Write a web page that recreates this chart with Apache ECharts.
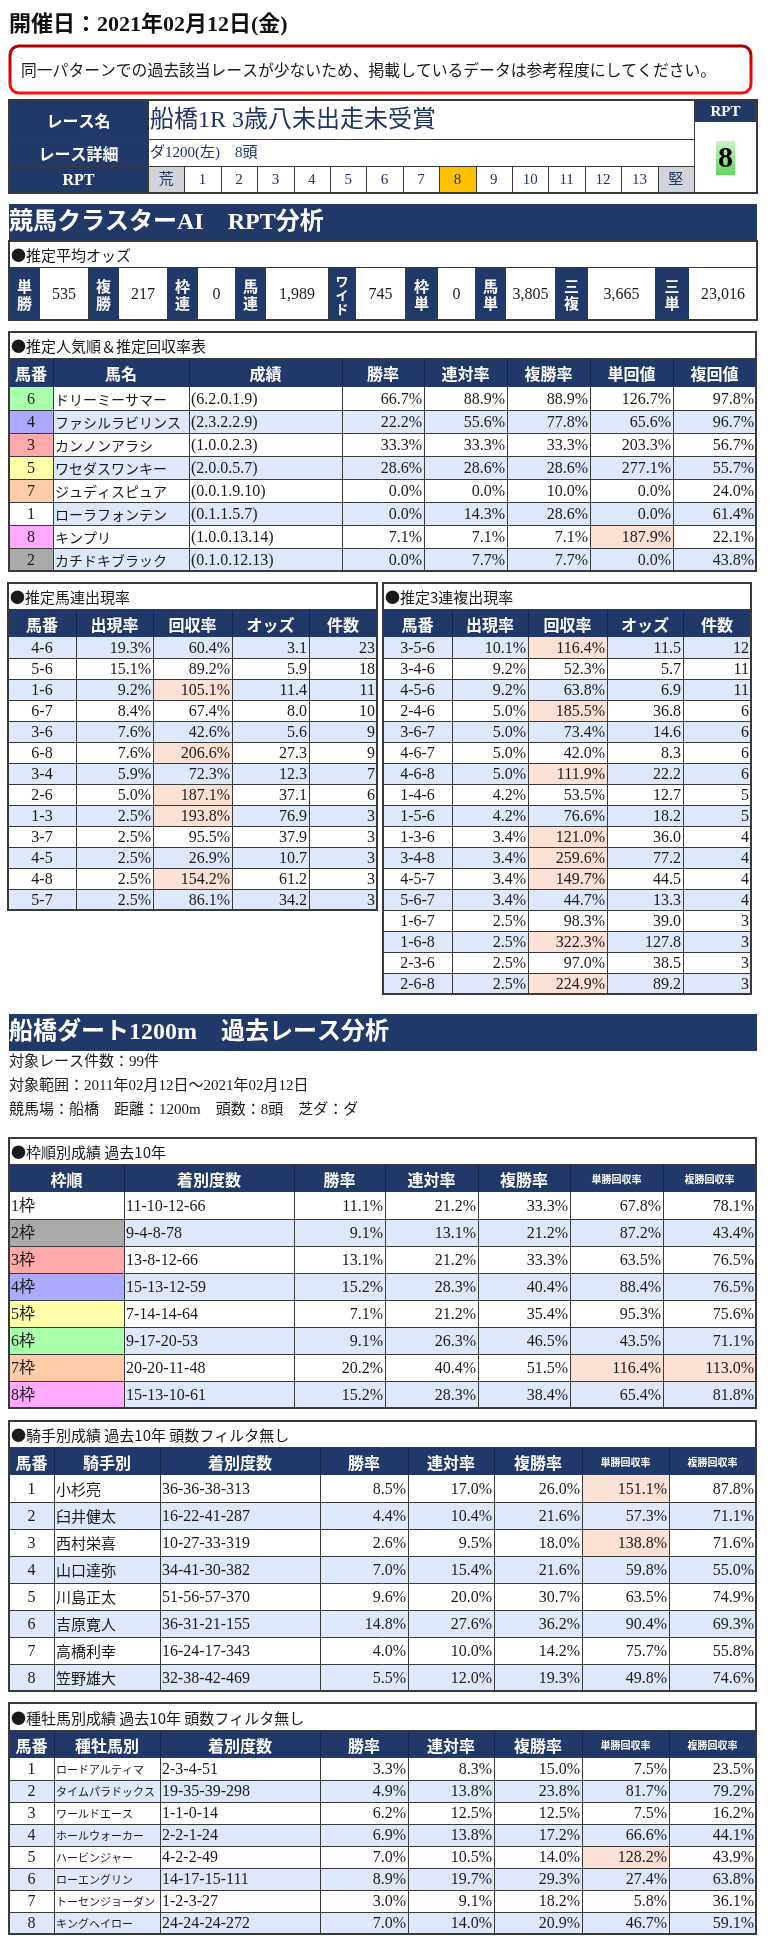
<!DOCTYPE html>
<html><head><meta charset="utf-8">
<script src="https://cdn.jsdelivr.net/npm/echarts/dist/echarts.min.js"></script>
<style>html,body{margin:0;padding:0;background:#fff}#c{width:784px;height:1954px}</style>
</head><body><div id="c"></div>
<script>
// ===== DATA =====
const eventDate = '開催日：2021年02月12日(金)';
const notice = '同一パターンでの過去該当レースが少ないため、掲載しているデータは参考程度にしてください。';
const raceName = '船橋1R 3歳八未出走未受賞';
const raceDetail = 'ダ1200(左)　8頭';
const rptScale = ['荒','1','2','3','4','5','6','7','8','9','10','11','12','13','堅'];
const rptValue = 8;

const oddsLabels = ['単勝','複勝','枠連','馬連','ワイド','枠単','馬単','三複','三単'];
const oddsValues = ['535','217','0','1,989','745','0','3,805','3,665','23,016'];

const popHeaders = ['馬番','馬名','成績','勝率','連対率','複勝率','単回値','複回値'];
const popNo = [6,4,3,5,7,1,8,2];
const popName = ['ドリーミーサマー','ファシルラビリンス','カンノンアラシ','ワセダスワンキー','ジュディスピュア','ローラフォンテン','キンプリ','カチドキブラック'];
const popRecord = ['(6.2.0.1.9)','(2.3.2.2.9)','(1.0.0.2.3)','(2.0.0.5.7)','(0.0.1.9.10)','(0.1.1.5.7)','(1.0.0.13.14)','(0.1.0.12.13)'];
const popWin = [66.7,22.2,33.3,28.6,0.0,0.0,7.1,0.0];
const popRen = [88.9,55.6,33.3,28.6,0.0,14.3,7.1,7.7];
const popFuku = [88.9,77.8,33.3,28.6,10.0,28.6,7.1,7.7];
const popTanKai = [126.7,65.6,203.3,277.1,0.0,0.0,187.9,0.0];
const popFukuKai = [97.8,96.7,56.7,55.7,24.0,61.4,22.1,43.8];
const popTanMarked = [false,false,false,false,false,false,true,false];

const pairHeaders = ['馬番','出現率','回収率','オッズ','件数'];
const umarenCombo = ['4-6','5-6','1-6','6-7','3-6','6-8','3-4','2-6','1-3','3-7','4-5','4-8','5-7'];
const umarenRate = [19.3,15.1,9.2,8.4,7.6,7.6,5.9,5.0,2.5,2.5,2.5,2.5,2.5];
const umarenReturn = [60.4,89.2,105.1,67.4,42.6,206.6,72.3,187.1,193.8,95.5,26.9,154.2,86.1];
const umarenOdds = [3.1,5.9,11.4,8.0,5.6,27.3,12.3,37.1,76.9,37.9,10.7,61.2,34.2];
const umarenCount = [23,18,11,10,9,9,7,6,3,3,3,3,3];

const trioCombo = ['3-5-6','3-4-6','4-5-6','2-4-6','3-6-7','4-6-7','4-6-8','1-4-6','1-5-6','1-3-6','3-4-8','4-5-7','5-6-7','1-6-7','1-6-8','2-3-6','2-6-8'];
const trioRate = [10.1,9.2,9.2,5.0,5.0,5.0,5.0,4.2,4.2,3.4,3.4,3.4,3.4,2.5,2.5,2.5,2.5];
const trioReturn = [116.4,52.3,63.8,185.5,73.4,42.0,111.9,53.5,76.6,121.0,259.6,149.7,44.7,98.3,322.3,97.0,224.9];
const trioOdds = [11.5,5.7,6.9,36.8,14.6,8.3,22.2,12.7,18.2,36.0,77.2,44.5,13.3,39.0,127.8,38.5,89.2];
const trioCount = [12,11,11,6,6,6,6,5,5,4,4,4,4,3,3,3,3];

const courseTitle = '船橋ダート1200m　過去レース分析';
const courseInfo = ['対象レース件数：99件','対象範囲：2011年02月12日～2021年02月12日','競馬場：船橋　距離：1200m　頭数：8頭　芝ダ：ダ'];

const frameHeaders = ['枠順','着別度数','勝率','連対率','複勝率','単勝回収率','複勝回収率'];
const frameLabel = ['1枠','2枠','3枠','4枠','5枠','6枠','7枠','8枠'];
const frameRecord = ['11-10-12-66','9-4-8-78','13-8-12-66','15-13-12-59','7-14-14-64','9-17-20-53','20-20-11-48','15-13-10-61'];
const frameWin = [11.1,9.1,13.1,15.2,7.1,9.1,20.2,15.2];
const frameRen = [21.2,13.1,21.2,28.3,21.2,26.3,40.4,28.3];
const frameFuku = [33.3,21.2,33.3,40.4,35.4,46.5,51.5,38.4];
const frameTanKai = [67.8,87.2,63.5,88.4,95.3,43.5,116.4,65.4];
const frameFukuKai = [78.1,43.4,76.5,76.5,75.6,71.1,113.0,81.8];

const jockeyHeaders = ['馬番','騎手別','着別度数','勝率','連対率','複勝率','単勝回収率','複勝回収率'];
const jockeyNo = [1,2,3,4,5,6,7,8];
const jockeyName = ['小杉亮','臼井健太','西村栄喜','山口達弥','川島正太','吉原寛人','高橋利幸','笠野雄大'];
const jockeyRecord = ['36-36-38-313','16-22-41-287','10-27-33-319','34-41-30-382','51-56-57-370','36-31-21-155','16-24-17-343','32-38-42-469'];
const jockeyWin = [8.5,4.4,2.6,7.0,9.6,14.8,4.0,5.5];
const jockeyRen = [17.0,10.4,9.5,15.4,20.0,27.6,10.0,12.0];
const jockeyFuku = [26.0,21.6,18.0,21.6,30.7,36.2,14.2,19.3];
const jockeyTanKai = [151.1,57.3,138.8,59.8,63.5,90.4,75.7,49.8];
const jockeyFukuKai = [87.8,71.1,71.6,55.0,74.9,69.3,55.8,74.6];

const sireHeaders = ['馬番','種牡馬別','着別度数','勝率','連対率','複勝率','単勝回収率','複勝回収率'];
const sireNo = [1,2,3,4,5,6,7,8];
const sireName = ['ロードアルティマ','タイムパラドックス','ワールドエース','ホールウォーカー','ハービンジャー','ローエングリン','トーセンジョーダン','キングヘイロー'];
const sireRecord = ['2-3-4-51','19-35-39-298','1-1-0-14','2-2-1-24','4-2-2-49','14-17-15-111','1-2-3-27','24-24-24-272'];
const sireWin = [3.3,4.9,6.2,6.9,7.0,8.9,3.0,7.0];
const sireRen = [8.3,13.8,12.5,13.8,10.5,19.7,9.1,14.0];
const sireFuku = [15.0,23.8,12.5,17.2,14.0,29.3,18.2,20.9];
const sireTanKai = [7.5,81.7,7.5,66.6,128.2,27.4,5.8,46.7];
const sireFukuKai = [23.5,79.2,16.2,44.1,43.9,63.8,36.1,59.1];

// ===== STYLE =====
const NAVY = '#213968';
const BLUE = '#dde8fb';
const PEACH = '#fce1d4';
const LINE = '#3a3a3a';
const TXT = '#1a1a1a';
const SERIF = "'Liberation Serif','Noto Sans CJK JP',serif";
const GOTH = "'Noto Sans CJK JP','Noto Sans',sans-serif";
const FRAME_COLORS = {1:'#ffffff',2:'#aaaaaa',3:'#ffaaaa',4:'#aaaaff',5:'#ffffaa',6:'#aaffaa',7:'#ffccaa',8:'#ffaaff'};

const els = [];
function rect(x,y,w,h,fill,z){els.push({type:'rect',silent:true,z:z||1,shape:{x:x,y:y,width:w,height:h},style:{fill:fill}});}
function line(x1,y1,x2,y2,stroke,lw,z){els.push({type:'line',silent:true,z:z||5,shape:{x1:x1,y1:y1,x2:x2,y2:y2},style:{stroke:stroke,lineWidth:lw||1}});}
function box(x,y,w,h,stroke,lw,r){els.push({type:'rect',silent:true,z:6,shape:{x:x,y:y,width:w,height:h,r:r||0},style:{fill:'none',stroke:stroke,lineWidth:lw}});}
function text(x,y,t,size,family,weight,fill,align,z){
  els.push({type:'text',silent:true,z:z||10,x:x,y:y,style:{text:String(t),fontSize:size,fontFamily:family,fontWeight:weight||'normal',fill:fill||TXT,align:align||'left',verticalAlign:'middle'}});
}
const R = v => Math.round(v);
const pct = v => v.toFixed(1)+'%';

function drawTable(o){
  const c = o.cols.map(R), x0 = c[0], x1 = c[c.length-1];
  let y = o.top;
  rect(x0,y,x1-x0,o.titleH,'#fff');
  text(x0+2,y+o.titleH/2+1,o.title,o.titleSize||15,GOTH,'normal',TXT,'left');
  line(x0,y+o.titleH-0.5,x1,y+o.titleH-0.5,LINE,1);
  y += o.titleH;
  rect(x0,y,x1-x0,o.headH,NAVY);
  o.headers.forEach((h,i)=>{
    text((c[i]+c[i+1])/2,y+o.headH/2+1,h,(o.headSizes&&o.headSizes[i])||16,GOTH,'bold','#fff','center');
  });
  for(let i=1;i<c.length-1;i++) line(c[i]+0.5,y,c[i]+0.5,y+o.headH,'#15264a',1);
  y += o.headH;
  const n = o.rows.length;
  o.rows.forEach((row,r)=>{
    const ry = y + r*o.rowH;
    const stripe = (r%2===o.stripe) ? BLUE : '#fff';
    row.forEach((cell,i)=>{
      rect(c[i],ry,c[i+1]-c[i],o.rowH,cell.bg||stripe);
      const tx = cell.a==='c' ? (c[i]+c[i+1])/2 : cell.a==='r' ? c[i+1]-2 : c[i]+2;
      text(tx,ry+o.rowH/2+1,cell.t,cell.s||16,cell.f||SERIF,'normal',TXT,cell.a==='c'?'center':cell.a==='r'?'right':'left');
    });
    if(r>0) line(x0,ry+0.5,x1,ry+0.5,LINE,1);
  });
  const yEnd = y + n*o.rowH;
  for(let i=1;i<c.length-1;i++) line(c[i]+0.5,y,c[i]+0.5,yEnd,LINE,1);
  box(x0,o.top,x1-x0,yEnd-o.top,LINE,2);
}

// ===== HEADER =====
text(9,25,eventDate,22,SERIF,'bold','#111','left');
box(10,46,741,47,new echarts.graphic.LinearGradient(0,0,0,1,[{offset:0,color:'#a80000'},{offset:1,color:'#ff1010'}]),3,9);
text(21,70,notice,15.8,GOTH,'normal',TXT,'left');

// race table
(function(){
  const x0=9,x1=757,xL=148,xR=694,t=100,r1=139,r2=166,b=193;
  rect(x0,t,xL-x0,b-t,NAVY);
  rect(xL,t,xR-xL,b-t,'#fff');
  rect(xR,t,x1-xR,22,NAVY);
  rect(xR,t+22,x1-xR,b-t-22,'#fff');
  text((x0+xL)/2,(t+r1)/2+1,'レース名',16,GOTH,'bold','#fff','center');
  text((x0+xL)/2,(r1+r2)/2+1,'レース詳細',16,GOTH,'bold','#fff','center');
  text((x0+xL)/2,(r2+b)/2+1,'RPT',16,SERIF,'bold','#fff','center');
  text((xR+x1)/2,t+12,'RPT',15,SERIF,'bold','#fff','center');
  text(xL+2,(t+r1)/2+1,raceName,24,SERIF,'normal','#1f3566','left');
  text(xL+2,(r1+r2)/2+1,raceDetail,15,SERIF,'normal','#1f3566','left');
  const cw=(xR-xL)/rptScale.length;
  rptScale.forEach((s,i)=>{
    const cx=xL+i*cw;
    let bg='#fff';
    if(i===0||i===rptScale.length-1) bg='#d3d3da';
    if(s===String(rptValue)) bg='#ffc000';
    rect(R(cx),r2,R(cx+cw)-R(cx),b-r2,bg);
    text(cx+cw/2,(r2+b)/2+1,s,15,SERIF,'normal','#1f3566','center');
    if(i>0) line(R(cx)+0.5,r2,R(cx)+0.5,b,LINE,1);
  });
  line(x0,r1+0.5,xR,r1+0.5,LINE,1);
  line(x0,r2+0.5,xR,r2+0.5,LINE,1);
  line(xL+0.5,t,xL+0.5,b,LINE,1);
  line(xR+0.5,t,xR+0.5,b,LINE,1);
  els.push({type:'rect',silent:true,z:3,shape:{x:716,y:141,width:19,height:34},style:{fill:new echarts.graphic.LinearGradient(0,0,0,1,[{offset:0,color:'#c8f5c8'},{offset:1,color:'#5fd85f'}])}});
  text(725.5,159,String(rptValue),30,SERIF,'bold','#000','center');
  box(x0,t,x1-x0,b-t,LINE,2);
})();

// ===== RPT ANALYSIS =====
rect(9,204,748,37,NAVY);
text(9,223,'競馬クラスターAI　RPT分析',24,SERIF,'bold','#fff','left');

(function(){
  const cols=[9,40,87.5,118.5,166.5,197.5,235,266,327.5,356,405,437.5,475,506,555,587.5,655,689,757].map(R);
  const t=241,m=268,b=320;
  rect(9,t,748,m-t,'#fff');
  text(11,(t+m)/2+1,'●推定平均オッズ',15,GOTH,'normal',TXT,'left');
  line(9,m-0.5,757,m-0.5,LINE,1);
  oddsLabels.forEach((lab,i)=>{
    const a=cols[2*i],bb=cols[2*i+1],c2=cols[2*i+2];
    rect(a,m,bb-a,b-m,NAVY);
    rect(bb,m,c2-bb,b-m,'#fff');
    const chars=lab.split('');
    const fs=chars.length>2?13:15, lh=chars.length>2?14:17;
    chars.forEach((ch,k)=>{
      text((a+bb)/2,(m+b)/2+(k-(chars.length-1)/2)*lh+1,ch,fs,GOTH,'bold','#fff','center');
    });
    text((bb+c2)/2,(m+b)/2+1,oddsValues[i],16,SERIF,'normal',TXT,'center');
    line(c2+0.5,m,c2+0.5,b,LINE,1);
  });
  box(9,t,748,b-t,LINE,2);
})();

// popularity table
drawTable({
  cols:[9,52.5,188.5,341.5,424,506.5,590,672.5,756], top:332, titleH:27, headH:28, rowH:23, stripe:1,
  title:'●推定人気順＆推定回収率表', headers:popHeaders,
  rows: popNo.map((no,i)=>[
    {t:no,a:'c',bg:FRAME_COLORS[no]},
    {t:popName[i],a:'l',f:GOTH,s:14},
    {t:popRecord[i],a:'l'},
    {t:pct(popWin[i]),a:'r'},
    {t:pct(popRen[i]),a:'r'},
    {t:pct(popFuku[i]),a:'r'},
    {t:pct(popTanKai[i]),a:'r',bg:popTanMarked[i]?PEACH:null},
    {t:pct(popFukuKai[i]),a:'r'}
  ])
});

// umaren
drawTable({
  cols:[8,76,152.7,231.7,309.3,377], top:583, titleH:27, headH:27, rowH:21, stripe:0,
  title:'●推定馬連出現率', headers:pairHeaders,
  rows: umarenCombo.map((cb,i)=>[
    {t:cb,a:'c'},
    {t:pct(umarenRate[i]),a:'r'},
    {t:pct(umarenReturn[i]),a:'r',bg:umarenReturn[i]>=100?PEACH:null},
    {t:umarenOdds[i].toFixed(1),a:'r'},
    {t:umarenCount[i],a:'r'}
  ])
});

// trio
drawTable({
  cols:[383,451.7,528.3,606.7,683.3,751], top:583, titleH:27, headH:27, rowH:21, stripe:0,
  title:'●推定3連複出現率', headers:pairHeaders,
  rows: trioCombo.map((cb,i)=>[
    {t:cb,a:'c'},
    {t:pct(trioRate[i]),a:'r'},
    {t:pct(trioReturn[i]),a:'r',bg:trioReturn[i]>=100?PEACH:null},
    {t:trioOdds[i].toFixed(1),a:'r'},
    {t:trioCount[i],a:'r'}
  ])
});

// ===== COURSE ANALYSIS =====
rect(9,1014,748,37,NAVY);
text(9,1033,courseTitle,24,SERIF,'bold','#fff','left');
courseInfo.forEach((s,i)=>text(9,1062+i*24,s,15,SERIF,'normal',TXT,'left'));

drawTable({
  cols:[9,123.5,293.5,385,477.5,570,662.5,756], top:1138, titleH:27, headH:27, rowH:27, stripe:1,
  title:'●枠順別成績 過去10年', headers:frameHeaders, headSizes:[16,16,16,16,16,10,10],
  rows: frameLabel.map((lab,i)=>[
    {t:lab,a:'l',bg:FRAME_COLORS[i+1]},
    {t:frameRecord[i],a:'l'},
    {t:pct(frameWin[i]),a:'r'},
    {t:pct(frameRen[i]),a:'r'},
    {t:pct(frameFuku[i]),a:'r'},
    {t:pct(frameTanKai[i]),a:'r',bg:frameTanKai[i]>=100?PEACH:null},
    {t:pct(frameFukuKai[i]),a:'r',bg:frameFukuKai[i]>=100?PEACH:null}
  ])
});

drawTable({
  cols:[9,53.5,160,320,407.5,494,581.5,668.5,756], top:1421, titleH:27, headH:27, rowH:27, stripe:1,
  title:'●騎手別成績 過去10年 頭数フィルタ無し', headers:jockeyHeaders, headSizes:[16,16,16,16,16,16,10,10],
  rows: jockeyNo.map((no,i)=>[
    {t:no,a:'c'},
    {t:jockeyName[i],a:'l',f:GOTH,s:15},
    {t:jockeyRecord[i],a:'l'},
    {t:pct(jockeyWin[i]),a:'r'},
    {t:pct(jockeyRen[i]),a:'r'},
    {t:pct(jockeyFuku[i]),a:'r'},
    {t:pct(jockeyTanKai[i]),a:'r',bg:jockeyTanKai[i]>=100?PEACH:null},
    {t:pct(jockeyFukuKai[i]),a:'r',bg:jockeyFukuKai[i]>=100?PEACH:null}
  ])
});

drawTable({
  cols:[9,53.5,160,320,407.5,494,581.5,668.5,756], top:1703, titleH:28, headH:27, rowH:22, stripe:1,
  title:'●種牡馬別成績 過去10年 頭数フィルタ無し', headers:sireHeaders, headSizes:[16,16,16,16,16,16,10,10],
  rows: sireNo.map((no,i)=>[
    {t:no,a:'c'},
    {t:sireName[i],a:'l',f:GOTH,s:11},
    {t:sireRecord[i],a:'l'},
    {t:pct(sireWin[i]),a:'r'},
    {t:pct(sireRen[i]),a:'r'},
    {t:pct(sireFuku[i]),a:'r'},
    {t:pct(sireTanKai[i]),a:'r',bg:sireTanKai[i]>=100?PEACH:null},
    {t:pct(sireFukuKai[i]),a:'r',bg:sireFukuKai[i]>=100?PEACH:null}
  ])
});

const chart = echarts.init(document.getElementById('c'), null, {renderer:'canvas', width:784, height:1954});
chart.setOption({animation:false, backgroundColor:'#fff', graphic:{elements:els}});
</script>
</body></html>
